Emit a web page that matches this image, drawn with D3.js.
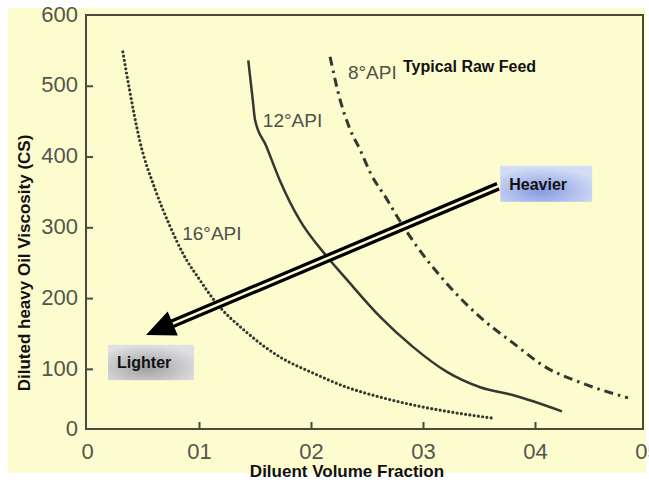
<!DOCTYPE html>
<html>
<head>
<meta charset="utf-8">
<script src="https://cdn.jsdelivr.net/npm/d3@7"></script>
<style>
  html, body { margin: 0; padding: 0; background: #ffffff; }
  svg { display: block; }
  text { font-family: "Liberation Sans", Arial, Helvetica, sans-serif; }
</style>
</head>
<body>
<svg id="chart" width="649" height="480"></svg>
<script>
// ---- data ----
const xTicks = [0, 0.1, 0.2, 0.3, 0.4, 0.5];
const xTickLabels = ["0", "01", "02", "03", "04", "05"];
const yTicks = [0, 100, 200, 300, 400, 500, 600];

const api16X = [0.032, 0.038, 0.047, 0.061, 0.074, 0.086, 0.101, 0.113, 0.143, 0.172, 0.202, 0.232, 0.262, 0.291, 0.321, 0.364];
const api16Y = [548, 494, 423, 353, 302, 262, 225, 198, 151, 117, 94, 74, 60, 49, 40, 30];

const api12X = [0.144, 0.148, 0.150, 0.160, 0.172, 0.190, 0.214, 0.232, 0.262, 0.291, 0.321, 0.351, 0.380, 0.424];
const api12Y = [536, 480, 452, 415, 367, 310, 259, 226, 173, 131, 96, 74, 63, 40];

const api8X = [0.217, 0.226, 0.235, 0.244, 0.253, 0.268, 0.277, 0.295, 0.321, 0.351, 0.380, 0.411, 0.440, 0.483];
const api8Y = [541, 480, 438, 409, 377, 339, 315, 272, 221, 173, 137, 101, 81, 59];

const seriesNames = ["16°API", "12°API", "8°API"];
const seriesLabelX = [0.085, 0.157, 0.233];
const seriesLabelY = [282, 442, 510];

const arrowFrom = [0.367, 358];
const arrowTo = [0.0527, 148];
const boxNames = ["Heavier", "Lighter"];
const boxX0 = [0.369, 0.0188];
const boxX1 = [0.451, 0.0955];
const boxY0 = [336, 84];
const boxY1 = [387, 134];
const feedNote = "Typical Raw Feed";
const xTitle = "Diluent Volume Fraction";
const yTitle = "Diluted heavy Oil Viscosity (CS)";

// ---- layout ----
const svg = d3.select("#chart");
const bg = "#fdfccf";
const frameL = 86, frameR = 643, frameT = 15, frameB = 429;

const x = d3.scaleLinear().domain([0, 0.5]).range([87, 647]);
const y = d3.scaleLinear().domain([15, 600]).range([frameB, frameT]).clamp(true);

const defs = svg.append("defs");
const gH = defs.append("radialGradient").attr("id", "gHeavy").attr("cx", "45%").attr("cy", "70%").attr("r", "65%");
gH.append("stop").attr("offset", "0%").attr("stop-color", "#869be2");
gH.append("stop").attr("offset", "100%").attr("stop-color", "#d3dcf4");
const gL = defs.append("radialGradient").attr("id", "gLight").attr("cx", "45%").attr("cy", "65%").attr("r", "65%");
gL.append("stop").attr("offset", "0%").attr("stop-color", "#a0a0a3");
gL.append("stop").attr("offset", "100%").attr("stop-color", "#e0e0e3");

// background
svg.append("rect").attr("x", 8).attr("y", 8).attr("width", 638).attr("height", 465).attr("fill", bg);

// axes
const axisColor = "#4a4a3e";
const labelColor = "#55554b";

const yAxis = svg.append("g").attr("transform", `translate(${frameL},0)`)
  .call(d3.axisLeft(y).tickValues(yTicks).tickSizeInner(-7).tickSizeOuter(0).tickPadding(8).tickFormat(d3.format("d")));
yAxis.select(".domain").remove();
yAxis.selectAll("line").attr("stroke", axisColor).attr("stroke-width", 2);
yAxis.selectAll(".tick").filter(d => d === 0 || d === 600).select("line").remove();
yAxis.selectAll("text").attr("fill", labelColor).attr("font-size", 22).attr("dy", "0.28em")
  .style("font-family", "'Liberation Sans', Arial, sans-serif");

const xAxis = svg.append("g").attr("transform", `translate(0,${frameB})`)
  .call(d3.axisBottom(x).tickValues(xTicks).tickSizeInner(-7).tickSizeOuter(0)
    .tickFormat((d, i) => xTickLabels[i]));
xAxis.select(".domain").remove();
xAxis.selectAll("line").attr("stroke", axisColor).attr("stroke-width", 2);
xAxis.selectAll(".tick").filter(d => d === 0 || d === 0.5).select("line").remove();
xAxis.selectAll("text").attr("fill", labelColor).attr("font-size", 22).attr("y", 14)
  .style("font-family", "'Liberation Sans', Arial, sans-serif");

// frame
svg.append("rect").attr("x", frameL).attr("y", frameT).attr("width", frameR - frameL).attr("height", frameB - frameT)
  .attr("fill", "none").attr("stroke", axisColor).attr("stroke-width", 2);

// titles
svg.append("text").attr("x", 347).attr("y", 477).attr("text-anchor", "middle")
  .attr("font-size", 17).attr("font-weight", "bold").attr("fill", "#111").text(xTitle);
svg.append("text").attr("transform", "translate(30,263) rotate(-90)").attr("text-anchor", "middle")
  .attr("font-size", 17).attr("font-weight", "bold").attr("fill", "#111").text(yTitle);

// curves
const line = d3.line().x(d => x(d[0])).y(d => y(d[1])).curve(d3.curveMonotoneX);
const curveColor = "#37372f";
const zip = (a, b) => a.map((v, i) => [v, b[i]]);

svg.append("path").datum(zip(api16X, api16Y)).attr("d", line)
  .attr("fill", "none").attr("stroke", curveColor).attr("stroke-width", 3.2)
  .attr("stroke-linecap", "round").attr("stroke-dasharray", "0,4.3");
svg.append("path").datum(zip(api12X, api12Y)).attr("d", line)
  .attr("fill", "none").attr("stroke", curveColor).attr("stroke-width", 2.5);
svg.append("path").datum(zip(api8X, api8Y)).attr("d", line)
  .attr("fill", "none").attr("stroke", curveColor).attr("stroke-width", 3)
  .attr("stroke-dasharray", "9,5,2.5,5");

// series labels
seriesNames.forEach((n, i) => {
  svg.append("text").attr("x", x(seriesLabelX[i])).attr("y", y(seriesLabelY[i]))
    .attr("font-size", 19).attr("fill", "#50504a").text(n);
});
svg.append("text").attr("x", 403).attr("y", y(seriesLabelY[2]) - 7)
  .attr("font-size", 16).attr("font-weight", "bold").attr("fill", "#111").text(feedNote);

// boxes
const fills = ["url(#gHeavy)", "url(#gLight)"];
boxNames.forEach((n, i) => {
  const bx = x(boxX0[i]), by = y(boxY1[i]);
  const bw = x(boxX1[i]) - bx, bh = y(boxY0[i]) - by;
  svg.append("rect").attr("x", bx).attr("y", by).attr("width", bw).attr("height", bh).attr("fill", fills[i]);
  svg.append("text").attr("x", bx + 9).attr("y", by + bh / 2).attr("dy", "0.36em")
    .attr("font-size", 16).attr("font-weight", "bold").attr("fill", "#111").text(n);
});

// arrow
const x0 = x(arrowFrom[0]), y0 = y(arrowFrom[1]);
const x1 = x(arrowTo[0]), y1 = y(arrowTo[1]);
const dx = x1 - x0, dy = y1 - y0, len = Math.hypot(dx, dy);
const ux = dx / len, uy = dy / len;
const headLen = 29, headHalf = 13;
const bxm = x1 - ux * headLen, bym = y1 - uy * headLen;
svg.append("line").attr("x1", x0).attr("y1", y0).attr("x2", bxm + ux * 2).attr("y2", bym + uy * 2)
  .attr("stroke", "#000").attr("stroke-width", 9);
svg.append("line").attr("x1", x0 - ux * 1).attr("y1", y0 - uy * 1).attr("x2", bxm).attr("y2", bym)
  .attr("stroke", bg).attr("stroke-width", 2.5);
svg.append("path")
  .attr("d", `M${x1},${y1}L${bxm - uy * headHalf},${bym + ux * headHalf}L${bxm + uy * headHalf},${bym - ux * headHalf}Z`)
  .attr("fill", "#000");
</script>
</body>
</html>
